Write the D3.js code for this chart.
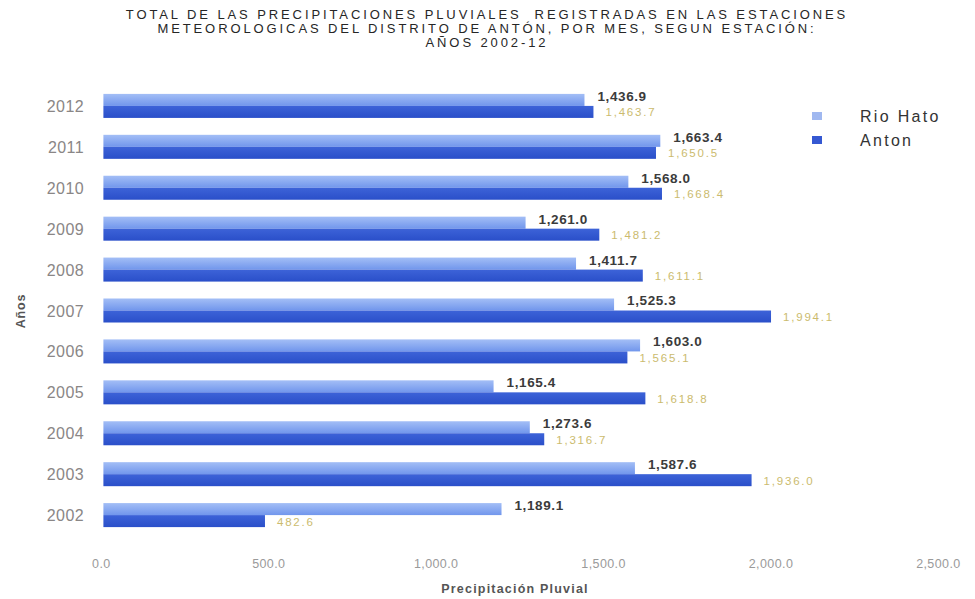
<!DOCTYPE html>
<html>
<head>
<meta charset="utf-8">
<script src="https://cdn.jsdelivr.net/npm/d3@7"></script>
<style>
  html, body { margin: 0; padding: 0; background: #fff; }
  svg { display: block; font-family: "Liberation Sans", Arial, sans-serif; }
</style>
</head>
<body>
<svg id="chart" width="975" height="599"></svg>
<script>
const titleLines = [
  "TOTAL DE LAS PRECIPITACIONES PLUVIALES  REGISTRADAS EN LAS ESTACIONES",
  "METEOROLOGICAS DEL DISTRITO DE ANTÓN, POR MES, SEGUN ESTACIÓN:",
  "AÑOS 2002-12"
];
const years = ["2012", "2011", "2010", "2009", "2008", "2007", "2006", "2005", "2004", "2003", "2002"];
const seriesNames = ["Rio Hato", "Anton"];
const rioHato = [1436.9, 1663.4, 1568.0, 1261.0, 1411.7, 1525.3, 1603.0, 1165.4, 1273.6, 1587.6, 1189.1];
const anton   = [1463.7, 1650.5, 1668.4, 1481.2, 1611.1, 1994.1, 1565.1, 1618.8, 1316.7, 1936.0, 482.6];
const xTicks = [0, 500, 1000, 1500, 2000, 2500];
const xTitle = "Precipitación Pluvial";
const yTitle = "Años";

const svg = d3.select("#chart");
const fmt = d3.format(",.1f");

// gradients
const defs = svg.append("defs");
function grad(id, c1, c2) {
  const g = defs.append("linearGradient").attr("id", id).attr("x1", 0).attr("y1", 0).attr("x2", 0).attr("y2", 1);
  g.append("stop").attr("offset", "0%").attr("stop-color", c1);
  g.append("stop").attr("offset", "100%").attr("stop-color", c2);
}
grad("gLight", "#a3bef6", "#7196ec");
grad("gDark", "#3d63d8", "#2a4fc9");
const fills = ["url(#gLight)", "url(#gDark)"];

const x = d3.scaleLinear().domain([0, 2500]).range([103.4, 940.4]);
const y0 = d3.scaleBand().domain(years).range([77, 544]).paddingInner(0.413).paddingOuter(0.413);
const y1 = d3.scaleBand().domain(seriesNames).range([0, y0.bandwidth()]);

// title
svg.append("g").selectAll("text").data(titleLines).join("text")
  .attr("x", 487).attr("y", (d, i) => 19 + i * 14)
  .attr("text-anchor", "middle")
  .style("white-space", "pre")
  .style("font-size", "13px").style("letter-spacing", "2.9px")
  .attr("fill", "#262626").text(d => d);

const rows = years.map((yr, i) => ({ year: yr, values: [rioHato[i], anton[i]] }));

const g = svg.append("g").selectAll("g").data(rows).join("g")
  .attr("transform", d => `translate(0,${y0(d.year)})`);

g.selectAll("rect").data(d => d.values.map((v, k) => ({ v, k }))).join("rect")
  .attr("x", x(0))
  .attr("y", d => y1(seriesNames[d.k]))
  .attr("width", d => x(d.v) - x(0))
  .attr("height", y1.bandwidth())
  .attr("fill", d => fills[d.k]);

// Rio Hato labels
g.append("text")
  .attr("x", d => x(d.values[0]) + 13)
  .attr("y", y1("Rio Hato") + 7)
  .style("font-size", "13.5px").style("font-weight", "bold").style("letter-spacing", "0.6px")
  .attr("fill", "#3b3b3b")
  .text(d => fmt(d.values[0]));

// Anton labels
g.append("text")
  .attr("x", d => x(d.values[1]) + 12)
  .attr("y", y1("Anton") + y1.bandwidth() / 2 + 4.5)
  .style("font-size", "11.5px").style("letter-spacing", "1.8px")
  .attr("fill", "#cbbb6e")
  .text(d => fmt(d.values[1]));

// year labels
svg.append("g").selectAll("text").data(years).join("text")
  .attr("x", 84).attr("y", d => y0(d) + y0.bandwidth() / 2 + 6)
  .attr("text-anchor", "end")
  .style("font-size", "16px").style("letter-spacing", "0.4px")
  .attr("fill", "#8a8686").text(d => d);

// x tick labels
svg.append("g").selectAll("text").data(xTicks).join("text")
  .attr("x", d => x(d) - 2).attr("y", 568)
  .attr("text-anchor", "middle")
  .style("font-size", "12.5px").style("letter-spacing", "0.4px")
  .attr("fill", "#9a9a9a").text(d => fmt(d));

// x title
svg.append("text").attr("x", 515).attr("y", 593)
  .attr("text-anchor", "middle")
  .style("font-size", "12.5px").style("font-weight", "bold").style("letter-spacing", "1.2px")
  .attr("fill", "#555").text(xTitle);

// y title
svg.append("text").attr("transform", "translate(25,311) rotate(-90)")
  .attr("text-anchor", "middle")
  .style("font-size", "12.5px").style("font-weight", "bold").style("letter-spacing", "0.8px")
  .attr("fill", "#555").text(yTitle);

// legend
const legendColors = ["#a0b8f0", "#3558d2"];
const lg = svg.append("g").selectAll("g").data(seriesNames).join("g")
  .attr("transform", (d, i) => `translate(812,${112 + i * 24})`);
lg.append("rect").attr("width", 10).attr("height", 8).attr("fill", (d, i) => legendColors[i]);
lg.append("text").attr("x", 48).attr("y", 9.5)
  .style("font-size", "16px").style("letter-spacing", "2.3px")
  .attr("fill", "#333").text(d => d);
</script>
</body>
</html>
